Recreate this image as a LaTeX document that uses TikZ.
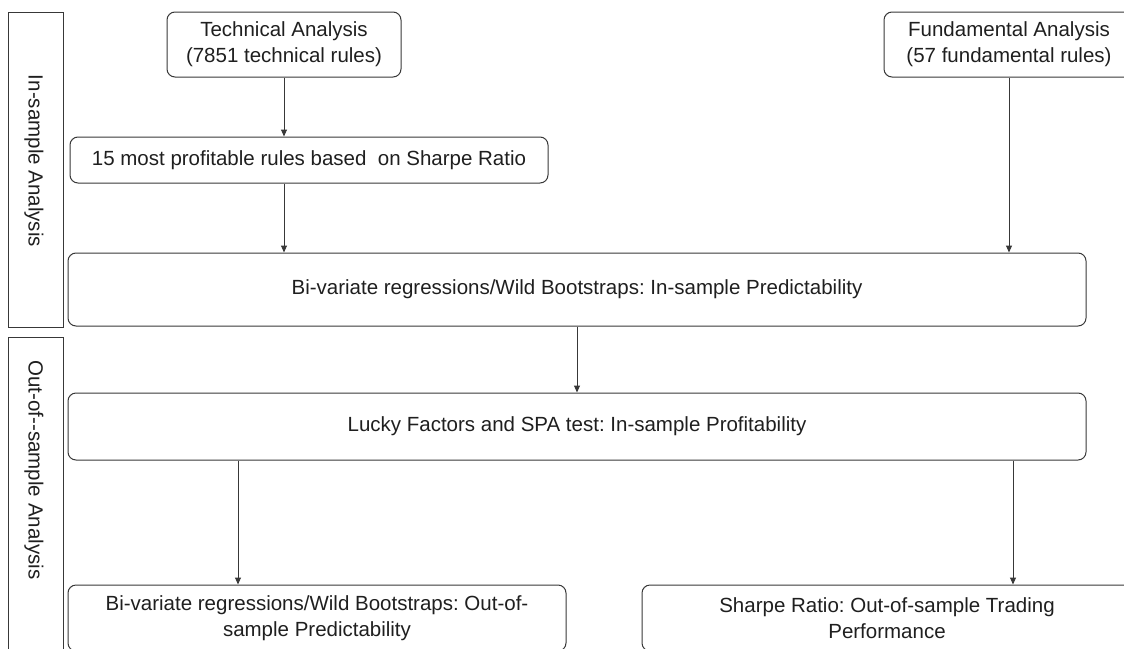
\documentclass[tikz,border=0pt]{standalone}
\usepackage{fontspec}
\setmainfont{Liberation Sans}
\usetikzlibrary{arrows.meta}
\frenchspacing

\begin{document}
\begin{tikzpicture}[x=1pt,y=-1pt,line width=1pt,color=black!78,>={Triangle[length=7pt,width=6pt]}]
    \tikzstyle{stage}=[draw,rounded corners=8pt,align=center,inner sep=0pt,text=black!88,font=\fontsize{20.5}{26}\selectfont]
    \tikzstyle{phase}=[draw,inner sep=0pt]
    \tikzstyle{phase text}=[rotate=-90,text=black!88,font=\fontsize{20.5}{26}\selectfont]
    \useasboundingbox (0,0) rectangle (1124,648);
    \clip (0,0) rectangle (1124,648);

    % left hand phases
    \node[phase,minimum width=55pt,minimum height=315pt] (ins) at (35.5,169.5) {};
    \node[phase text] (ins-t) at (34,161) {In-sample Analysis};
    \node[phase,minimum width=55pt,minimum height=340pt] (oos) at (35.5,507) {};
    \node[phase text] (oos-t) at (34,470) {Out-of-{}-sample Analysis};

    % stages
    \node[stage,minimum width=234pt,minimum height=65pt] (ta) at (284,44.5) {Technical Analysis\\(7851 technical rules)};
    \node[stage,minimum width=250pt,minimum height=65pt] (fa) at (1009,44.5) {Fundamental Analysis\\(57 fundamental rules)};
    \node[stage,minimum width=478pt,minimum height=46pt] (best) at (309,160) {15 most profitable rules based\ \ on Sharpe Ratio};
    \node[stage,minimum width=1018pt,minimum height=73pt] (bwb) at (577,289.5) {Bi-variate regressions/Wild Bootstraps: In-sample Predictability};
    \node[stage,minimum width=1018pt,minimum height=67pt] (lf) at (577,426.5) {Lucky Factors and SPA test: In-sample Profitability};
    \node[stage,minimum width=498pt,minimum height=66pt] (oosp) at (317,618) {Bi-variate regressions/Wild Bootstraps: Out-of-\\sample Predictability};
    \node[stage,minimum width=490pt,minimum height=66pt] (sr) at (887,618) {Sharpe Ratio: Out-of-sample Trading\\Performance};

    \coordinate (c1) at (238,0);
    \coordinate (c2) at (1013,0);

    \draw[->] (ta) -- (ta |- best.north);
    \draw[->] (best.south -| ta) -- (bwb.north -| ta);
    \draw[->] (fa) -- (fa |- bwb.north);
    \draw[->] (bwb) -- (lf);
    \foreach \c/\to in {c1/oosp, c2/sr}
        \draw[->] (lf.south -| \c) -- (\to.north -| \c);
\end{tikzpicture}
\end{document}
